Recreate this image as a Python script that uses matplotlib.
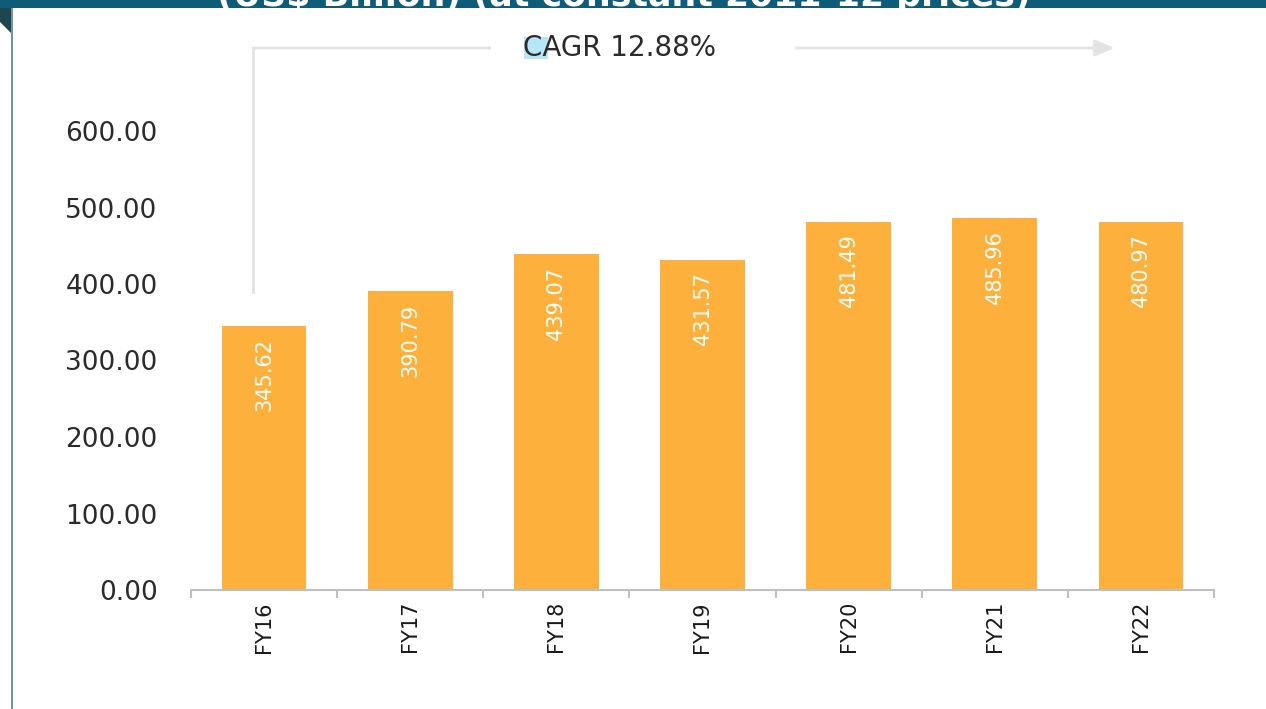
import matplotlib
matplotlib.use("Agg")
import matplotlib.pyplot as plt
from matplotlib.patches import Rectangle, Polygon

categories = ["FY16", "FY17", "FY18", "FY19", "FY20", "FY21", "FY22"]
values = [345.62, 390.79, 439.07, 431.57, 481.49, 485.96, 480.97]
y_ticks = [0, 100, 200, 300, 400, 500, 600]
title_text = "(US$ Billion) (at constant 2011-12 prices)"
cagr_text = "CAGR 12.88%"

W, H = 1266, 709
fig = plt.figure(figsize=(W / 100, H / 100), dpi=100)
fig.patch.set_facecolor("white")

# header band and left frame
fig.add_artist(Rectangle((0, 1 - 8 / H), 1, 8 / H, transform=fig.transFigure,
                         facecolor="#0f5c78", edgecolor="none", zorder=0))
fig.add_artist(Polygon([(0, 1 - 8 / H), (12 / W, 1 - 8 / H), (12 / W, 1 - 34 / H), (0, 1 - 22 / H)],
                       closed=True, transform=fig.transFigure,
                       facecolor="#1f4650", edgecolor="none", zorder=0))
fig.add_artist(Rectangle((10.5 / W, 0), 2.5 / W, 1 - 8 / H, transform=fig.transFigure,
                         facecolor="#6f97a0", edgecolor="none", zorder=0))
fig.text(624 / W, 1 - 6 / H, title_text, color="white", fontsize=25, fontweight="bold",
         ha="center", va="baseline")

ax = fig.add_axes([191 / W, (H - 590) / H, 1023 / W, 535.5 / H])
x = list(range(len(categories)))
ax.bar(x, values, width=0.58, color="#fdb03b", edgecolor="none", zorder=2)
ax.set_xlim(-0.5, len(categories) - 0.5)
ax.set_ylim(0, 700)

for s in ["top", "right", "left"]:
    ax.spines[s].set_visible(False)
ax.spines["bottom"].set_color("#bfbfbf")
ax.spines["bottom"].set_linewidth(1.5)

ax.set_yticks(y_ticks)
ax.set_yticklabels([f"{v:.2f}" for v in y_ticks])
ax.tick_params(axis="y", length=0, pad=24, labelsize=19, labelcolor="#2b2b2b")

ax.set_xticks(x)
ax.set_xticklabels(categories, rotation=90)
ax.tick_params(axis="x", which="major", length=0, pad=8, labelsize=15, labelcolor="#1a1a1a")
ax.set_xticks([i - 0.5 for i in range(len(categories) + 1)], minor=True)
ax.tick_params(axis="x", which="minor", length=6, width=1.5, color="#bfbfbf", direction="out")

# value labels inside bars
for xi, v in zip(x, values):
    ax.annotate(f"{v:.2f}", xy=(xi, v), xytext=(0, -9), textcoords="offset points",
                rotation=90, ha="center", va="top", color="white", fontsize=15, zorder=3)

# CAGR annotation
y_top = 708.5
x_start = -0.076
ax.plot([x_start, x_start], [389.5, y_top], color="#e3e3e3", lw=2, clip_on=False, zorder=1)
ax.annotate("", xy=(5.82, y_top), xytext=(x_start, y_top), annotation_clip=False,
            arrowprops=dict(arrowstyle="-|>,head_length=1.2,head_width=0.5", color="#e3e3e3",
                            lw=2, shrinkA=0, shrinkB=0))
ax.add_patch(Rectangle((1.55, y_top - 26), 2.08, 52, facecolor="white", edgecolor="none",
                       clip_on=False, zorder=4))
ax.add_patch(Rectangle((1.78, y_top - 14), 0.165, 28, facecolor="#b6e6f8", edgecolor="none",
                       clip_on=False, zorder=5))
ax.text(1.775, y_top, cagr_text, ha="left", va="center", fontsize=20, color="#2b2b2b",
        clip_on=False, zorder=6)

fig.savefig("out.png", dpi=100)
